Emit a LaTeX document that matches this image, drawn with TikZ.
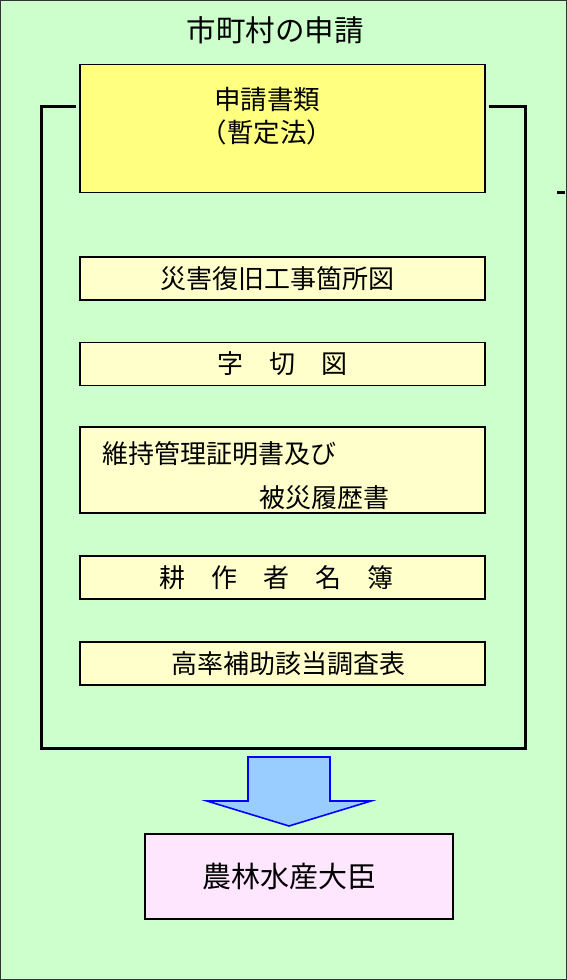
\documentclass[tikz,border=0pt]{standalone}
\usepackage{fontspec}
\newfontfamily\jp{Noto Sans CJK JP}
\definecolor{bggreen}{HTML}{CCFFCC}
\definecolor{mainyellow}{HTML}{FFFF80}
\definecolor{lightyellow}{HTML}{FFFFCC}
\definecolor{pinkbox}{HTML}{FFE6FF}
\definecolor{arrowfill}{HTML}{99CCFF}
\begin{document}
\begin{tikzpicture}[x=1pt,y=-1pt,
  frame/.style={draw=black!80,line width=1pt,fill=bggreen},
  mainbox/.style={draw=black,line width=1.3pt,fill=mainyellow,minimum width=405pt,minimum height=128pt,inner sep=0pt},
  docbox/.style={draw=black,line width=1.3pt,fill=lightyellow,minimum width=405pt,minimum height=43pt,inner sep=0pt,font=\jp\fontsize{26}{30}\selectfont},
  bracket/.style={draw=black,line width=3pt},
  bigarrow/.style={draw=blue,line width=1.6pt,fill=arrowfill,line join=miter},
  jptext/.style={font=\jp\fontsize{26}{30}\selectfont,inner sep=0pt}]
\useasboundingbox (0,0) rectangle (567,980);
\draw[frame] (0.5,0.5) rectangle (566.5,979.5);
\node[jptext,font=\jp\fontsize{29.5}{32}\selectfont] (title) at (275,30) {市町村の申請};
\node[mainbox] (b0) at (282.5,128.5) {};
\node[jptext,font=\jp\fontsize{26.5}{30}\selectfont] (t0a) at (267,99) {申請書類};
\node[jptext,font=\jp\fontsize{26.5}{30}\selectfont] (t0b) at (267,132) {（暫定法）};
\node[docbox] (b1) at (282.5,278.5) {\hspace*{-10pt}災害復旧工事箇所図};
\node[docbox] (b2) at (282.5,364) {字　切　図};
\node[docbox,minimum height=86pt] (b3) at (282.5,470) {};
\node[jptext,anchor=west] (t3a) at (102,454) {維持管理証明書及び};
\node[jptext,anchor=west] (t3b) at (259,498) {被災履歴書};
\node[docbox] (b4) at (282.5,577.5) {\hspace*{-13pt}耕　作　者　名　簿};
\node[docbox] (b5) at (282.5,663.5) {\hspace*{12pt}高率補助該当調査表};
\coordinate (bl) at (41,748);
\coordinate (br) at (525,748);
\draw[bracket,line join=miter] ([xshift=-3pt,yshift=22.5pt]b0.west) -- (41,106) -- (bl) -- (br) -- (525,106) -- ([xshift=3pt,yshift=22.5pt]b0.east);
\draw[black,line width=3pt] (557,192.5) -- (565,192.5);
\draw[bigarrow] (248,757) -- (330,757) -- (330,801) -- (371,801) -- (289,826) -- (207,801) -- (248,801) -- cycle;
\node[draw=black,line width=1.3pt,fill=pinkbox,minimum width=308pt,minimum height=85pt,inner sep=0pt,font=\jp\fontsize{29}{32}\selectfont] (minister) at (299,876.5) {\hspace*{-20pt}農林水産大臣};
\end{tikzpicture}
\end{document}
